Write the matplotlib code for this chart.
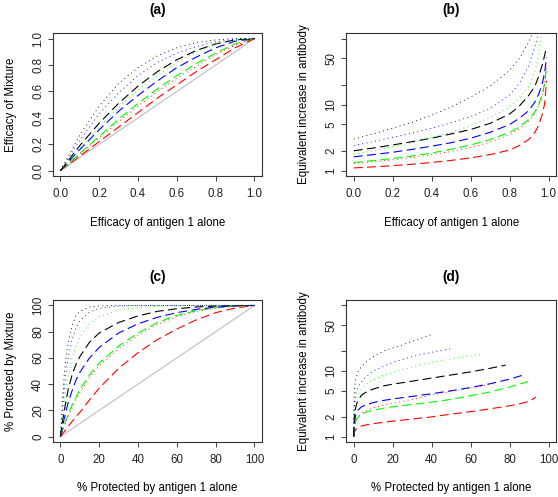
import matplotlib
matplotlib.use("Agg")
import matplotlib.pyplot as plt

plt.rcParams['font.family'] = ['Liberation Sans', 'DejaVu Sans']

# ---- panel (a): efficacy of mixture vs efficacy of antigen 1 alone ----
a_x = [0, 0.1, 0.2, 0.3, 0.4, 0.5, 0.6, 0.7, 0.8, 0.9, 1.0]
a_red_dash = [0, .11, .22, .33, .44, .55, .65, .75, .84, .93, 1.0]
a_green_dash = [0, .13, .26, .39, .51, .62, .72, .81, .89, .96, 1.0]
a_blue_dash = [0, .16, .31, .45, .57, .68, .78, .86, .93, .98, 1.0]
a_black_dash = [0, .19, .36, .51, .64, .75, .84, .91, .96, .99, 1.0]
a_red_dot = [0, .125, .25, .37, .49, .60, .70, .79, .88, .95, 1.0]
a_green_dot = [0, .17, .33, .48, .61, .72, .82, .90, .96, .99, 1.0]
a_blue_dot = [0, .23, .43, .59, .72, .82, .89, .94, .975, .995, 1.0]
a_black_dot = [0, .27, .49, .66, .78, .87, .93, .97, .99, 1.0, 1.0]

# ---- panel (b): equivalent increase in antibody vs efficacy ----
b_x = [0, .1, .2, .3, .4, .5, .6, .7, .8, .85, .9, .93, .95, .97, .98, .99]
b_red_dash = [1.1, 1.14, 1.19, 1.25, 1.33, 1.43, 1.56, 1.75, 2.05, 2.4, 3.0, 3.8, 4.9, 7.5, 10.5, 23]
b_green_dash = [1.33, 1.42, 1.53, 1.67, 1.85, 2.1, 2.45, 2.95, 3.8, 4.6, 6.0, 7.8, 10, 15, 21, 38]
b_blue_dash = [1.62, 1.75, 1.9, 2.1, 2.35, 2.65, 3.1, 3.8, 5.0, 6.2, 8.2, 11, 14.5, 22, 31, 52]
b_black_dash = [2.0, 2.2, 2.45, 2.75, 3.1, 3.6, 4.2, 5.2, 7.2, 9.5, 14, 19, 27, 42, 56, 75]
b_red_dot = [1.28, 1.36, 1.46, 1.58, 1.74, 1.95, 2.25, 2.7, 3.5, 4.3, 5.7, 7.5, 9.8, 15, 21, 38]
b_green_dot = [1.78, 2.0, 2.3, 2.65, 3.15, 3.8, 4.8, 6.4, 9.2, 12.5, 19, 31, 58, 140]
b_blue_dot = [2.4, 2.75, 3.2, 3.7, 4.4, 5.3, 6.6, 8.8, 14, 21, 40, 75, 130]
b_black_dot = [3.0, 3.6, 4.4, 5.4, 6.9, 9.2, 13, 19, 33, 50, 90, 150]

# ---- panel (c): % protected by mixture vs % protected by antigen 1 ----
c_x = [0, 1, 2, 3, 4, 6, 8, 10, 15, 20, 30, 40, 50, 60, 70, 80, 90, 100]
c_red_dash = [0, 1.9, 3.9, 5.8, 7.7, 11.5, 15, 18.5, 28, 37, 52, 64, 74, 82, 89, 94.5, 98, 100]
c_green_dash = [0, 4.5, 9, 13, 17, 24, 30, 36, 47, 56, 69, 79, 87, 92.5, 96, 98.3, 99.5, 100]
c_blue_dash = [0, 7, 14, 20, 26, 35, 43, 49, 60, 68, 79, 86, 91, 94.5, 97, 98.7, 99.6, 100]
c_black_dash = [0, 11, 20, 28, 36, 47, 55, 61, 72, 79, 87, 92, 95.5, 97.5, 98.8, 99.5, 99.9, 100]
c_red_dot = [0, 4, 8, 12, 15.5, 22, 28, 33.5, 45, 54, 67, 77.5, 85.5, 91.5, 95.5, 98, 99.4, 100]
c_green_dot = [0, 14, 27, 37, 46, 60, 69, 76, 86, 91.5, 96.5, 98.5, 99.4, 99.8, 99.95, 100, 100, 100]
c_blue_dot = [0, 20, 37, 50, 60, 74, 83, 88.5, 95, 97.8, 99.5, 99.9, 100, 100, 100, 100, 100, 100]
c_black_dot = [0, 27, 48, 62, 72, 85, 92, 95.5, 98.8, 99.6, 100, 100, 100, 100, 100, 100, 100, 100]

# ---- panel (d): equivalent increase in antibody vs % protected ----
d_red_dash_x = [0, .3, 1, 2, 4, 7, 10, 15, 20, 30, 40, 50, 60, 70, 80, 85, 90, 93.6]
d_red_dash = [1, 1.15, 1.28, 1.37, 1.45, 1.52, 1.57, 1.65, 1.72, 1.85, 2.0, 2.2, 2.4, 2.65, 2.95, 3.15, 3.45, 4.0]
d_green_dash_x = [0, .3, 1, 2, 4, 7, 10, 15, 20, 30, 40, 50, 60, 70, 80, 89.5]
d_green_dash = [1, 1.4, 1.7, 1.95, 2.2, 2.4, 2.5, 2.7, 2.85, 3.1, 3.35, 3.7, 4.2, 4.8, 5.7, 6.9]
d_blue_dash_x = [0, .3, 1, 2, 4, 7, 10, 15, 20, 30, 40, 50, 60, 70, 80, 86.5]
d_blue_dash = [1, 1.6, 2.1, 2.5, 2.85, 3.1, 3.3, 3.55, 3.75, 4.1, 4.5, 5.0, 5.6, 6.4, 7.5, 8.6]
d_black_dash_x = [0, .3, 1, 2, 4, 7, 10, 15, 20, 30, 40, 50, 60, 70, 78]
d_black_dash = [1, 2.0, 2.8, 3.5, 4.3, 4.9, 5.3, 5.9, 6.3, 7.0, 7.8, 8.7, 9.7, 11, 12.3]
d_red_dot_x = [0, .3, 1, 2, 4, 7, 10, 15, 20, 30, 40, 50, 60, 70, 72]
d_red_dot = [1, 1.35, 1.65, 1.95, 2.3, 2.55, 2.75, 3.0, 3.2, 3.7, 4.3, 4.9, 5.5, 6.2, 6.4]
d_green_dot_x = [0, .3, 1, 2, 4, 7, 10, 15, 20, 25, 30, 40, 50, 60, 66]
d_green_dot = [1, 2.5, 3.5, 4.3, 5.3, 6.5, 7.3, 8.5, 9.5, 10.5, 11.5, 13.5, 15.3, 17, 18]
d_blue_dot_x = [0, .2, .5, 1, 2, 3, 5, 8, 12, 16, 20, 25, 30, 35, 40, 45, 51]
d_blue_dot = [1, 2.8, 3.7, 4.5, 5.5, 6.3, 7.5, 9.0, 10.7, 12, 13.5, 15, 16.5, 18, 19.3, 20.7, 22]
d_black_dot_x = [0, .2, .5, 1, 2, 3, 5, 8, 12, 16, 20, 25, 30, 35, 40]
d_black_dot = [1.0, 4, 6, 7.5, 9.5, 10.7, 12.5, 15, 18, 20.5, 22.5, 25, 28.5, 32, 36]

log_ticks = [1, 2, 5, 10, 20, 50, 100]
log_labels = ['1', '2', '5', '10', '', '50', '']

DASH = (0, (8, 4))
DOT = (0, (1.2, 4))
LW = 0.8
LW_DOT = 0.6
FS = 8.3


def style_axes(ax, title, xlabel, ylabel):
    ax.set_title(title, fontsize=9.8, fontweight='bold', pad=14)
    ax.set_xlabel(xlabel, fontsize=FS, labelpad=12)
    ax.set_ylabel(ylabel, fontsize=FS, labelpad=11)
    ax.tick_params(direction='out', length=3.6, width=0.6, labelsize=FS, colors='#222222')
    ax.tick_params(axis='x', pad=5)
    ax.tick_params(axis='y', pad=2.5)
    for lab in ax.get_yticklabels():
        lab.set_rotation(90)
        lab.set_va('center')
    for s in ax.spines.values():
        s.set_linewidth(0.8)
        s.set_color('#333333')


def draw(ax, curves):
    for x, y, color, ls in curves:
        lw = LW_DOT if ls is DOT else LW
        ax.plot(x[:len(y)], y, color=color, linestyle=ls, lw=lw)


fig = plt.figure(figsize=(5.58, 4.97), dpi=100)

pos_a = [0.0944, 0.646, 0.3756, 0.287]
pos_b = [0.620, 0.646, 0.377, 0.287]
pos_c = [0.0944, 0.111, 0.3756, 0.285]
pos_d = [0.620, 0.111, 0.377, 0.285]

# (a)
ax = fig.add_axes(pos_a)
ax.plot([0, 1], [0, 1], color='#bebebe', lw=LW)
draw(ax, [
    (a_x, a_red_dash, 'red', DASH), (a_x, a_green_dash, '#00ff00', DASH),
    (a_x, a_blue_dash, 'blue', DASH), (a_x, a_black_dash, 'black', DASH),
    (a_x, a_red_dot, 'red', DOT), (a_x, a_green_dot, '#00ff00', DOT),
    (a_x, a_blue_dot, 'blue', DOT), (a_x, a_black_dot, 'black', DOT),
])
ax.set_xlim(-0.04, 1.04)
ax.set_ylim(-0.04, 1.04)
ax.set_xticks([0, 0.2, 0.4, 0.6, 0.8, 1.0])
ax.set_yticks([0, 0.2, 0.4, 0.6, 0.8, 1.0])
ax.set_xticklabels(['0.0', '0.2', '0.4', '0.6', '0.8', '1.0'])
ax.set_yticklabels(['0.0', '0.2', '0.4', '0.6', '0.8', '1.0'])
style_axes(ax, '(a)', 'Efficacy of antigen 1 alone', 'Efficacy of Mixture')

# (b)
ax = fig.add_axes(pos_b)
draw(ax, [
    (b_x, b_red_dash, 'red', DASH), (b_x, b_green_dash, '#00ff00', DASH),
    (b_x, b_blue_dash, 'blue', DASH), (b_x, b_black_dash, 'black', DASH),
    (b_x, b_red_dot, 'red', DOT), (b_x, b_green_dot, '#00ff00', DOT),
    (b_x, b_blue_dot, 'blue', DOT), (b_x, b_black_dot, 'black', DOT),
])
ax.set_yscale('log')
ax.set_xlim(-0.04, 1.04)
ax.set_ylim(10 ** -0.08, 10 ** 2.08)
ax.set_xticks([0, 0.2, 0.4, 0.6, 0.8, 1.0])
ax.set_xticklabels(['0.0', '0.2', '0.4', '0.6', '0.8', '1.0'])
ax.set_yticks(log_ticks)
ax.set_yticklabels(log_labels)
ax.minorticks_off()
style_axes(ax, '(b)', 'Efficacy of antigen 1 alone', 'Equivalent increase in antibody')

# (c)
ax = fig.add_axes(pos_c)
ax.plot([0, 100], [0, 100], color='#bebebe', lw=LW)
draw(ax, [
    (c_x, c_red_dash, 'red', DASH), (c_x, c_green_dash, '#00ff00', DASH),
    (c_x, c_blue_dash, 'blue', DASH), (c_x, c_black_dash, 'black', DASH),
    (c_x, c_red_dot, 'red', DOT), (c_x, c_green_dot, '#00ff00', DOT),
    (c_x, c_blue_dot, 'blue', DOT), (c_x, c_black_dot, 'black', DOT),
])
ax.set_xlim(-4, 104)
ax.set_ylim(-4, 104)
ax.set_xticks([0, 20, 40, 60, 80, 100])
ax.set_yticks([0, 20, 40, 60, 80, 100])
style_axes(ax, '(c)', '% Protected by antigen 1 alone', '% Protected by Mixture')

# (d)
ax = fig.add_axes(pos_d)
draw(ax, [
    (d_red_dash_x, d_red_dash, 'red', DASH), (d_green_dash_x, d_green_dash, '#00ff00', DASH),
    (d_blue_dash_x, d_blue_dash, 'blue', DASH), (d_black_dash_x, d_black_dash, 'black', DASH),
    (d_red_dot_x, d_red_dot, 'red', DOT), (d_green_dot_x, d_green_dot, '#00ff00', DOT),
    (d_blue_dot_x, d_blue_dot, 'blue', DOT), (d_black_dot_x, d_black_dot, 'black', DOT),
])
ax.set_yscale('log')
ax.set_xlim(-4, 104)
ax.set_ylim(10 ** -0.08, 10 ** 2.08)
ax.set_xticks([0, 20, 40, 60, 80, 100])
ax.set_yticks(log_ticks)
ax.set_yticklabels(log_labels)
ax.minorticks_off()
style_axes(ax, '(d)', '% Protected by antigen 1 alone', 'Equivalent increase in antibody')

fig.savefig('out.png', dpi=100)
